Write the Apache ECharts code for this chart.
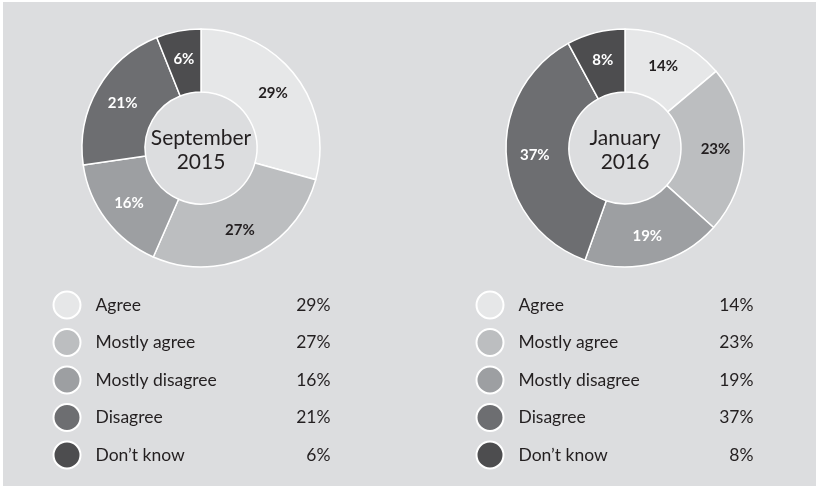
<!DOCTYPE html>
<html>
<head>
<meta charset="utf-8">
<script src="https://cdn.jsdelivr.net/npm/echarts@6/dist/echarts.min.js"></script>
<style>
html,body{margin:0;padding:0;background:#ffffff;}
#bg{position:absolute;left:3px;top:2px;width:813px;height:484px;background:#dcdddf;}
#chart{position:absolute;left:0;top:0;width:816px;height:486px;}
</style>
</head>
<body>
<div id="bg"></div>
<div id="chart"></div>
<script>
const categories = ['Agree', 'Mostly agree', 'Mostly disagree', 'Disagree', 'Don\u2019t know'];
const sep2015 = [29, 27, 16, 21, 6];
const jan2016 = [14, 23, 19, 37, 8];
const periodLabels = ['September\n2015', 'January\n2016'];

const colors = ['#e6e7e8', '#bcbec0', '#9d9fa2', '#6d6e71', '#4d4d4f'];
const labelColors = ['#231f20', '#231f20', '#ffffff', '#ffffff', '#ffffff'];
const FONT = 'Lato, "Open Sans", sans-serif';

function pieData(vals) {
  return categories.map((c, i) => ({
    name: c, value: vals[i],
    itemStyle: { color: colors[i] },
    label: { color: labelColors[i] }
  }));
}

function pieSeries(vals, cx) {
  return {
    type: 'pie',
    center: [cx, 148],
    radius: [56, 119],
    startAngle: 90,
    clockwise: true,
    avoidLabelOverlap: false,
    silent: true,
    itemStyle: { borderColor: '#ffffff', borderWidth: 1.5 },
    label: {
      show: true, position: 'inside',
      formatter: p => p.value + '%',
      fontFamily: FONT, fontWeight: 'bold', fontSize: 15
    },
    labelLine: { show: false },
    data: pieData(vals)
  };
}

function legend(vals, left) {
  return {
    orient: 'vertical',
    left: left, top: 290.5, height: 220,
    padding: 0,
    itemWidth: 27, itemHeight: 27, itemGap: 8.5,
    icon: 'circle',
    selectedMode: false,
    data: categories,
    formatter: name => '{n|' + name + '}{v|' + vals[categories.indexOf(name)] + '%}',
    textStyle: {
      padding: [0, 0, 0, 10],
      rich: {
        n: { width: 185, fontSize: 17.5, fontFamily: FONT, color: '#231f20', lineHeight: 20 },
        v: { width: 50, align: 'right', fontSize: 17.5, fontFamily: FONT, color: '#231f20', lineHeight: 20 }
      }
    }
  };
}

const chart = echarts.init(document.getElementById('chart'));
chart.setOption({
  backgroundColor: 'transparent',
  animation: false,
  legend: [legend(sep2015, 52.5), legend(jan2016, 475.5)],
  series: [pieSeries(sep2015, 201), pieSeries(jan2016, 625)],
  graphic: [
    { type: 'text', x: 201, y: 150, style: {
        text: periodLabels[0], fontSize: 21, fontFamily: FONT, fill: '#231f20',
        textAlign: 'center', textVerticalAlign: 'middle', lineHeight: 24 }, z: 100 },
    { type: 'text', x: 625, y: 150, style: {
        text: periodLabels[1], fontSize: 21, fontFamily: FONT, fill: '#231f20',
        textAlign: 'center', textVerticalAlign: 'middle', lineHeight: 24 }, z: 100 }
  ]
});
</script>
</body>
</html>
